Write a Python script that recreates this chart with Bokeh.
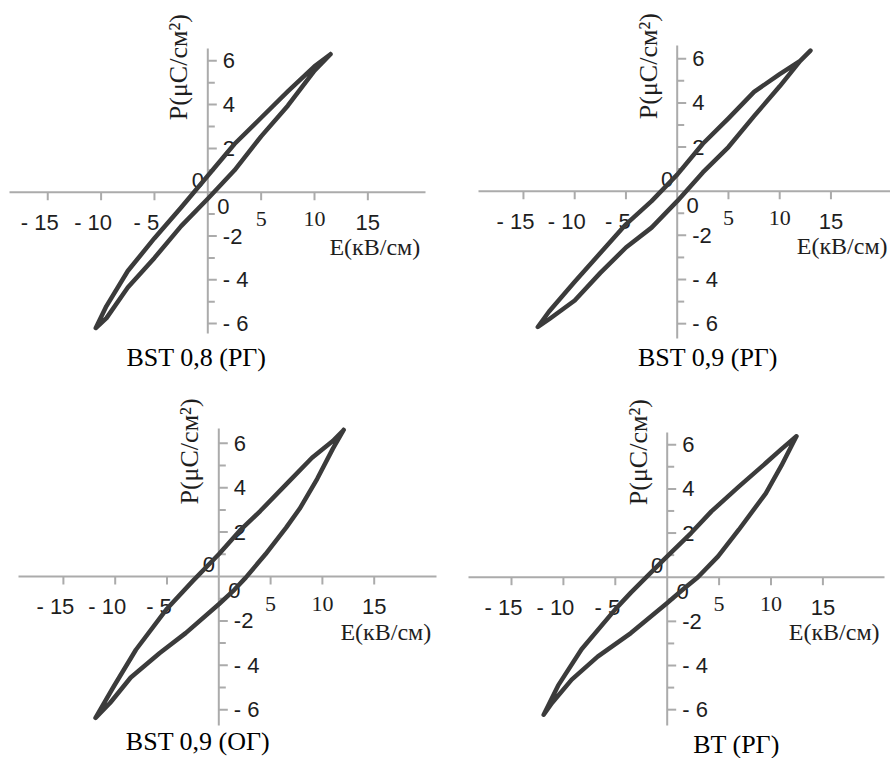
import math
from bokeh.plotting import figure
from bokeh.models import Range1d
from bokeh.layouts import column, row
from bokeh.embed import file_html
from bokeh.resources import INLINE
from bokeh.core.properties import value

# ---------------- data ----------------
x_ticks = [-15, -10, -5, 5, 10, 15]
x_tick_labels = ["- 15", "- 10", "- 5", "5", "10", "15"]
y_ticks = [-6, -4, -2, 2, 4, 6]
y_tick_labels = ["- 6", "- 4", "-2", "2", "4", "6"]
y_minor_ticks = [-5, -3, -1, 1, 3, 5]
x_title = "E(кВ/см)"
y_title = "P(μC/см²)"
captions = ["BST 0,8 (РГ)", "BST 0,9 (РГ)", "BST 0,9 (ОГ)", "BT (РГ)"]

# panel 1: BST 0,8 (РГ)
e1_up = [11.5, 10.0, 7.5, 5.0, 2.5, 0.0, -2.5, -5.0, -7.5, -9.5, -10.5]
p1_up = [6.3, 5.75, 4.6, 3.4, 2.2, 0.75, -0.7, -2.1, -3.6, -5.2, -6.2]
e1_dn = [-10.5, -9.5, -7.5, -5.0, -2.5, 0.0, 2.5, 5.0, 7.5, 10.0, 11.5]
p1_dn = [-6.2, -5.75, -4.35, -3.0, -1.55, -0.3, 1.0, 2.55, 3.95, 5.55, 6.3]

# panel 2: BST 0,9 (РГ)
e2_up = [13.0, 12.0, 10.0, 7.5, 5.0, 2.5, 0.0, -2.5, -5.0, -7.5, -10.0, -12.5, -13.6]
p2_up = [6.37, 5.9, 5.3, 4.5, 3.3, 2.15, 0.75, -0.45, -1.5, -2.8, -4.1, -5.45, -6.15]
e2_dn = [-13.6, -12.5, -10.0, -7.5, -5.0, -2.5, 0.0, 2.5, 5.0, 7.5, 10.0, 12.0, 13.0]
p2_dn = [-6.15, -5.8, -4.95, -3.7, -2.55, -1.65, -0.45, 0.85, 2.0, 3.4, 4.75, 5.9, 6.37]

# panel 3: BST 0,9 (ОГ)
e3_up = [12.05, 11.0, 9.0, 6.5, 4.0, 2.0, 0.0, -2.5, -5.0, -8.0, -10.2, -11.9]
p3_up = [6.6, 6.1, 5.35, 4.15, 2.95, 2.05, 1.0, -0.2, -1.45, -3.3, -5.0, -6.37]
e3_dn = [-11.9, -10.5, -8.5, -5.7, -3.2, 0.0, 1.5, 2.6, 4.5, 6.5, 7.8, 9.5, 11.0, 12.05]
p3_dn = [-6.37, -5.7, -4.55, -3.45, -2.55, -1.25, -0.6, -0.05, 1.0, 2.2, 3.05, 4.4, 5.75, 6.6]

# panel 4: BT (РГ)
e4_up = [12.45, 11.0, 9.5, 6.9, 4.26, 2.3, 0.0, -0.95, -3.5, -4.9, -8.25, -10.5, -11.9]
p4_up = [6.38, 5.8, 5.17, 4.1, 2.98, 2.0, 0.94, 0.5, -0.7, -1.4, -3.26, -4.9, -6.23]
e4_dn = [-11.9, -11.1, -9.2, -6.7, -3.5, 0.0, 1.48, 2.95, 4.9, 6.9, 9.5, 11.0, 12.45]
p4_dn = [-6.23, -5.7, -4.64, -3.6, -2.53, -1.17, -0.57, 0.0, 0.94, 2.15, 3.8, 5.05, 6.38]

# ---------------- layout / style ----------------
PANELS = [
    dict(left=0, top=0, w=446, h=380, ox=207.3, oy=191.7, sx=10.67, sy=21.9,
         xb=(9, 425), yb=(48, 333), cap=(196, 357), xt=167),
    dict(left=446, top=0, w=444, h=380, ox=676.7, oy=190.7, sx=10.25, sy=22.08,
         xb=(478, 892), yb=(45, 338), cap=(707.5, 357), xt=165),
    dict(left=0, top=380, w=446, h=378, ox=218.3, oy=576.0, sx=10.36, sy=22.2,
         xb=(18, 436), yb=(428, 725), cap=(197.5, 741), xt=167),
    dict(left=446, top=380, w=444, h=378, ox=666.7, oy=576.7, sx=10.38, sy=22.08,
         xb=(468, 884), yb=(432, 725), cap=(736, 744), xt=167),
]
SANS = "Liberation Sans"
SERIF = "Liberation Serif"
AXIS = "#ababab"
INK = "#1e1e1e"
LOOP = "#3b3b3b"
SERIF_X = {"5", "10"}


def make_panel(cfg, eu, pu, ed, pd, caption):
    L, T, W, H = cfg["left"], cfg["top"], cfg["w"], cfg["h"]
    ox, oy, sx, sy = cfg["ox"], cfg["oy"], cfg["sx"], cfg["sy"]

    def dx(X):
        return (X - ox) / sx

    def dy(Y):
        return (oy - Y) / sy

    p = figure(width=W, height=H, x_range=Range1d(start=dx(L), end=dx(L + W)),
               y_range=Range1d(start=dy(T + H), end=dy(T)),
               toolbar_location=None, output_backend="svg", min_border=0)
    p.xaxis.visible = False
    p.yaxis.visible = False
    p.xgrid.visible = False
    p.ygrid.visible = False
    p.outline_line_color = None

    # axis lines through the origin
    p.segment(x0=[dx(cfg["xb"][0])], y0=[0], x1=[dx(cfg["xb"][1])], y1=[0],
              line_color=AXIS, line_width=2)
    p.segment(x0=[0], y0=[dy(cfg["yb"][1])], x1=[0], y1=[dy(cfg["yb"][0])],
              line_color=AXIS, line_width=2)
    # ticks
    p.segment(x0=x_ticks, y0=[0] * len(x_ticks), x1=x_ticks, y1=[-8 / sy] * len(x_ticks),
              line_color=AXIS, line_width=2)
    p.segment(x0=[0] * len(y_ticks), y0=y_ticks, x1=[9 / sx] * len(y_ticks), y1=y_ticks,
              line_color=AXIS, line_width=2)
    p.segment(x0=[0] * len(y_minor_ticks), y0=y_minor_ticks, x1=[7 / sx] * len(y_minor_ticks),
              y1=y_minor_ticks, line_color=AXIS, line_width=2)

    # y tick labels
    p.text(x=[15 / sx] * len(y_ticks), y=y_ticks, text=y_tick_labels, text_align="left",
           text_baseline="middle", text_font=value(SANS), text_font_size=value("22px"), text_color=INK)

    # x tick labels
    pairs = list(zip(x_ticks, x_tick_labels))
    groups = [
        ([t for t, s in pairs if t < 0], [s for t, s in pairs if t < 0], SANS, 30, -8),
        ([t for t, s in pairs if t > 0 and s not in SERIF_X],
         [s for t, s in pairs if t > 0 and s not in SERIF_X], SANS, 30, 0),
        ([t for t, s in pairs if s in SERIF_X], [s for t, s in pairs if s in SERIF_X], SERIF, 27, 0),
    ]
    for xs, ts, font, off, xo in groups:
        p.text(x=[t + xo / sx for t in xs], y=[-off / sy] * len(xs), text=ts, text_align="center",
               text_baseline="middle", text_font=value(font), text_font_size=value("22px"),
               text_color=INK)

    # the two zero labels
    p.text(x=[dx(ox - 10), dx(ox + 15.5)], y=[dy(oy - 12), dy(oy + 14)], text=["0", "0"],
           text_align="center", text_baseline="middle", text_font=value(SANS),
           text_font_size=value("22px"), text_color=INK)

    # axis titles
    p.text(x=[dx(ox + cfg["xt"])], y=[dy(oy + 55)], text=[x_title], text_align="center",
           text_baseline="middle", text_font=value(SERIF), text_font_size=value("24px"), text_color=INK)
    p.text(x=[dx(ox - 29)], y=[dy(oy - 125)], text=[y_title], angle=math.pi / 2, text_align="center",
           text_baseline="middle", text_font=value(SERIF), text_font_size=value("26px"), text_color=INK)

    # caption
    p.text(x=[dx(cfg["cap"][0])], y=[dy(cfg["cap"][1])], text=[caption], text_align="center",
           text_baseline="middle", text_font=value(SERIF), text_font_size=value("26px"),
           text_color="#000000")

    # hysteresis loop
    p.line(x=eu + ed, y=pu + pd, line_color=LOOP, line_width=4.5, line_join="round", line_cap="round")
    return p


f1 = make_panel(PANELS[0], e1_up, p1_up, e1_dn, p1_dn, captions[0])
f2 = make_panel(PANELS[1], e2_up, p2_up, e2_dn, p2_dn, captions[1])
f3 = make_panel(PANELS[2], e3_up, p3_up, e3_dn, p3_dn, captions[2])
f4 = make_panel(PANELS[3], e4_up, p4_up, e4_dn, p4_dn, captions[3])

layout = column(row(f1, f2), row(f3, f4))
open("out.html", "w", encoding="utf-8").write(file_html(layout, INLINE))
